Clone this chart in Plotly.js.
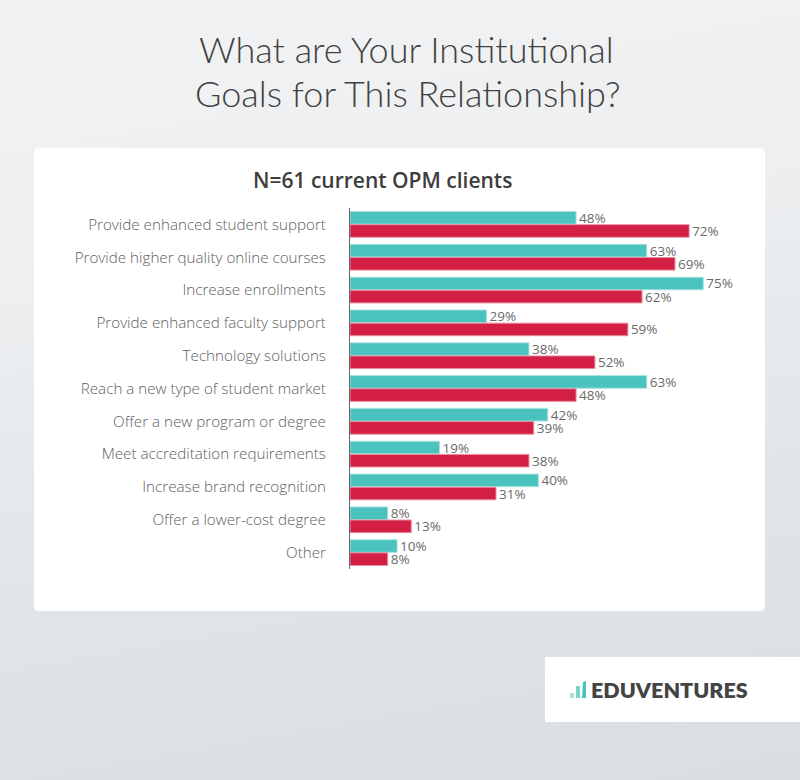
<!DOCTYPE html>
<html>
<head>
<meta charset="utf-8">
<script src="https://cdn.plot.ly/plotly-3.0.1.min.js"></script>
<style>
  html, body { margin: 0; padding: 0; }
  body {
    width: 800px; height: 780px; overflow: hidden;
    background: linear-gradient(170deg, #f2f3f4 0%, #eceef0 35%, #dfe4e6 70%, #d9dfe1 100%);
  }
  #chart { width: 800px; height: 780px; }
</style>
</head>
<body>
<div id="chart"></div>
<script>
const goals = [
  'Provide enhanced student support',
  'Provide higher quality online courses',
  'Increase enrollments',
  'Provide enhanced faculty support',
  'Technology solutions',
  'Reach a new type of student market',
  'Offer a new program or degree',
  'Meet accreditation requirements',
  'Increase brand recognition',
  'Offer a lower-cost degree',
  'Other'
];
const tealValues = [48, 63, 75, 29, 38, 63, 42, 19, 40, 8, 10];
const redValues = [72, 69, 62, 59, 52, 48, 39, 38, 31, 13, 8];

const W = 800, H = 780;
const M = { l: 350, r: 50, t: 208, b: 211 };
const plotW = W - M.l - M.r, plotH = H - M.t - M.b;
// pixel -> paper helpers
const px = x => (x - M.l) / plotW;
const py = y => (H - M.b - y) / plotH;

function roundRect(x0, y0, x1, y1, r) {
  const rx = r / plotW, ry = r / plotH;
  const a = px(x0), b = px(x1), t = py(y0), u = py(y1);
  return `M ${a + rx},${t} L ${b - rx},${t} Q ${b},${t} ${b},${t - ry} ` +
         `L ${b},${u + ry} Q ${b},${u} ${b - rx},${u} L ${a + rx},${u} ` +
         `Q ${a},${u} ${a},${u + ry} L ${a},${t - ry} Q ${a},${t} ${a + rx},${t} Z`;
}

const barText = { family: 'Open Sans, sans-serif', size: 13.5, color: '#6a6a6a' };

const teal = {
  type: 'bar', orientation: 'h', y: goals, x: tealValues,
  marker: { color: '#4AC3BF', line: { color: '#a9e2e0', width: 1 } },
  texttemplate: '%{x}%', textposition: 'outside', cliponaxis: false,
  constraintext: 'none', textfont: barText, hoverinfo: 'skip'
};
const red = {
  type: 'bar', orientation: 'h', y: goals, x: redValues,
  marker: { color: '#D31F44', line: { color: '#e88ea0', width: 1 } },
  texttemplate: '%{x}%', textposition: 'outside', cliponaxis: false,
  constraintext: 'none', textfont: barText, hoverinfo: 'skip'
};

const shapes = [
  // white card
  { type: 'path', xref: 'paper', yref: 'paper', layer: 'below',
    path: roundRect(34, 148, 765, 611, 5), fillcolor: '#ffffff', line: { width: 0 } },
  // logo box
  { type: 'rect', xref: 'paper', yref: 'paper', layer: 'below',
    x0: px(545), x1: px(801), y0: py(657), y1: py(722), fillcolor: '#ffffff', line: { width: 0 } },
  // logo bars
  { type: 'rect', xref: 'paper', yref: 'paper', x0: px(570), x1: px(574), y0: py(698), y1: py(693),
    fillcolor: '#a6e0dd', line: { width: 0 } },
  { type: 'rect', xref: 'paper', yref: 'paper', x0: px(576), x1: px(580), y0: py(698), y1: py(686),
    fillcolor: '#7fd3cf', line: { width: 0 } },
  { type: 'path', xref: 'paper', yref: 'paper',
    path: `M ${px(582)},${py(698)} L ${px(586)},${py(698)} L ${px(586)},${py(681)} L ${px(583)},${py(682)} Z`,
    fillcolor: '#4AC3BF', line: { width: 0 } }
];

const annotations = [
  { text: 'What are Your Institutional', xref: 'paper', yref: 'paper', x: px(406), y: py(49),
    showarrow: false, xanchor: 'center', yanchor: 'middle',
    font: { family: 'Lato, sans-serif', size: 36, color: '#414141', weight: 300 } },
  { text: 'Goals for This Relationship?', xref: 'paper', yref: 'paper', x: px(407), y: py(93),
    showarrow: false, xanchor: 'center', yanchor: 'middle',
    font: { family: 'Lato, sans-serif', size: 36, color: '#414141', weight: 300 } },
  { text: 'N=61 current OPM clients', xref: 'paper', yref: 'paper', x: px(382), y: py(180),
    showarrow: false, xanchor: 'center', yanchor: 'middle',
    font: { family: 'Open Sans, sans-serif', size: 21, color: '#3d3d3d', weight: 600 } },
  { text: 'EDUVENTURES', xref: 'paper', yref: 'paper', x: px(589), y: py(690),
    showarrow: false, xanchor: 'left', yanchor: 'middle',
    font: { family: 'Lato, sans-serif', size: 21.5, color: '#444444', weight: 800 } }
];

const layout = {
  width: W, height: H,
  margin: M,
  paper_bgcolor: 'rgba(0,0,0,0)',
  plot_bgcolor: 'rgba(0,0,0,0)',
  barmode: 'group', bargap: 0.2, bargroupgap: 0.04,
  showlegend: false,
  xaxis: {
    range: [0, plotW / 4.71], showgrid: false, zeroline: false,
    showticklabels: false, showline: false, fixedrange: true
  },
  yaxis: {
    autorange: 'reversed', showgrid: false, zeroline: false,
    showline: true, linecolor: '#666666', linewidth: 1,
    ticks: 'outside', ticklen: 20, tickcolor: 'rgba(0,0,0,0)',
    tickfont: { family: 'Open Sans, sans-serif', size: 15.2, color: '#606060', weight: 300 },
    fixedrange: true
  },
  shapes: shapes,
  annotations: annotations
};

Plotly.newPlot('chart', [teal, red], layout, { displayModeBar: false, staticPlot: true });
</script>
</body>
</html>
